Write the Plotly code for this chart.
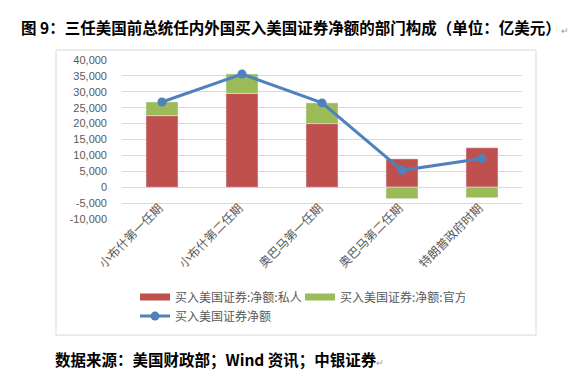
import plotly.graph_objects as go

categories = ["小布什第一任期", "小布什第二任期", "奥巴马第一任期", "奥巴马第二任期", "特朗普政府时期"]
private_net = [22500, 29500, 20000, 8900, 12400]
official_net = [4300, 6100, 6500, -3600, -3300]
total_net = [26800, 35600, 26500, 5300, 9000]
y_tickvals = [-10000, -5000, 0, 5000, 10000, 15000, 20000, 25000, 30000, 35000, 40000]
y_ticktext = ["-10,000", "-5,000", "0", "5,000", "10,000", "15,000", "20,000", "25,000", "30,000", "35,000", "40,000"]
names = ["买入美国证券:净额:私人", "买入美国证券:净额:官方", "买入美国证券净额"]

RED = "#C0504D"
GREEN = "#9BBB59"
BLUE = "#4F81BD"
GRID = "#D9D9D9"
TXT = "#595959"

fig = go.Figure()
fig.add_trace(go.Bar(x=categories, y=private_net, marker_color=RED, name=names[0], showlegend=False))
fig.add_trace(go.Bar(x=categories, y=official_net, marker_color=GREEN, name=names[1], showlegend=False))
fig.add_trace(go.Scatter(x=categories, y=total_net, mode="lines+markers", name=names[2],
                         line=dict(color=BLUE, width=3), marker=dict(size=9, color=BLUE), showlegend=False))
# legend entries (no visible data)
fig.add_trace(go.Scatter(x=[categories[0]], y=[None], mode="lines", name=names[0], line=dict(color=RED, width=7)))
fig.add_trace(go.Scatter(x=[categories[0]], y=[None], mode="lines", name=names[1], line=dict(color=GREEN, width=7)))
fig.add_trace(go.Scatter(x=[categories[0]], y=[None], mode="lines+markers", name=names[2],
                         line=dict(color=BLUE, width=3), marker=dict(size=9, color=BLUE)))

# category labels below the zero line, rotated like the original
cat_labels = [dict(text=c, x=c, y=0, xref="x", yref="y", textangle=-45, xanchor="right", yanchor="top",
                   xshift=7, yshift=-9, showarrow=False,
                   font=dict(family="Noto Sans CJK SC, serif", size=12, color=TXT))
              for c in categories]

fig.update_layout(
    width=571, height=376,
    margin=dict(l=114, r=57, t=52, b=165),
    paper_bgcolor="white", plot_bgcolor="white",
    barmode="relative", bargap=0.6,
    font=dict(family="Noto Sans CJK SC, sans-serif", color=TXT, size=12),
    legend=dict(orientation="h", x=0.0325, y=-0.40, xanchor="left", yanchor="top",
                entrywidth=120, entrywidthmode="pixels", traceorder="normal",
                font=dict(size=12, color=TXT), bgcolor="rgba(0,0,0,0)"),
    xaxis=dict(type="category", categoryorder="array", categoryarray=categories,
               range=[-0.5, len(categories) - 0.5],
               showline=False, ticks="", showticklabels=False,
               showgrid=False, zeroline=False, automargin=False),
    yaxis=dict(range=[-10000, 40000], tickvals=y_tickvals, ticktext=y_ticktext,
               showgrid=True, gridcolor=GRID, gridwidth=1, zeroline=False, showline=False,
               ticks="", ticklabelstandoff=14, automargin=False,
               tickfont=dict(family="Liberation Sans, Arial, sans-serif", size=11, color=TXT)),
    shapes=[dict(type="rect", xref="paper", yref="paper", x0=-0.165, x1=1.035, y0=-0.73, y1=1.063,
                 line=dict(color=GRID, width=1), layer="below")],
    annotations=cat_labels + [
        dict(text="<b>图 9：三任美国前总统任内外国买入美国证券净额的部门构成（单位：亿美元）</b><span style='color:#999999;font-size:9px'>↵</span>",
             xref="paper", yref="paper", x=-0.258, y=1.2075, xanchor="left", yanchor="middle", showarrow=False,
             font=dict(family="Noto Sans CJK SC, serif", size=15.5, color="#000000")),
        dict(text="<b>数据来源：美国财政部；Wind 资讯；中银证券</b><span style='color:#999999;font-size:9px'>↵</span>",
             xref="paper", yref="paper", x=-0.173, y=-0.88, xanchor="left", yanchor="middle", showarrow=False,
             font=dict(family="Noto Sans CJK SC, serif", size=15.5, color="#000000")),
    ],
)

fig.write_html("out.html")
